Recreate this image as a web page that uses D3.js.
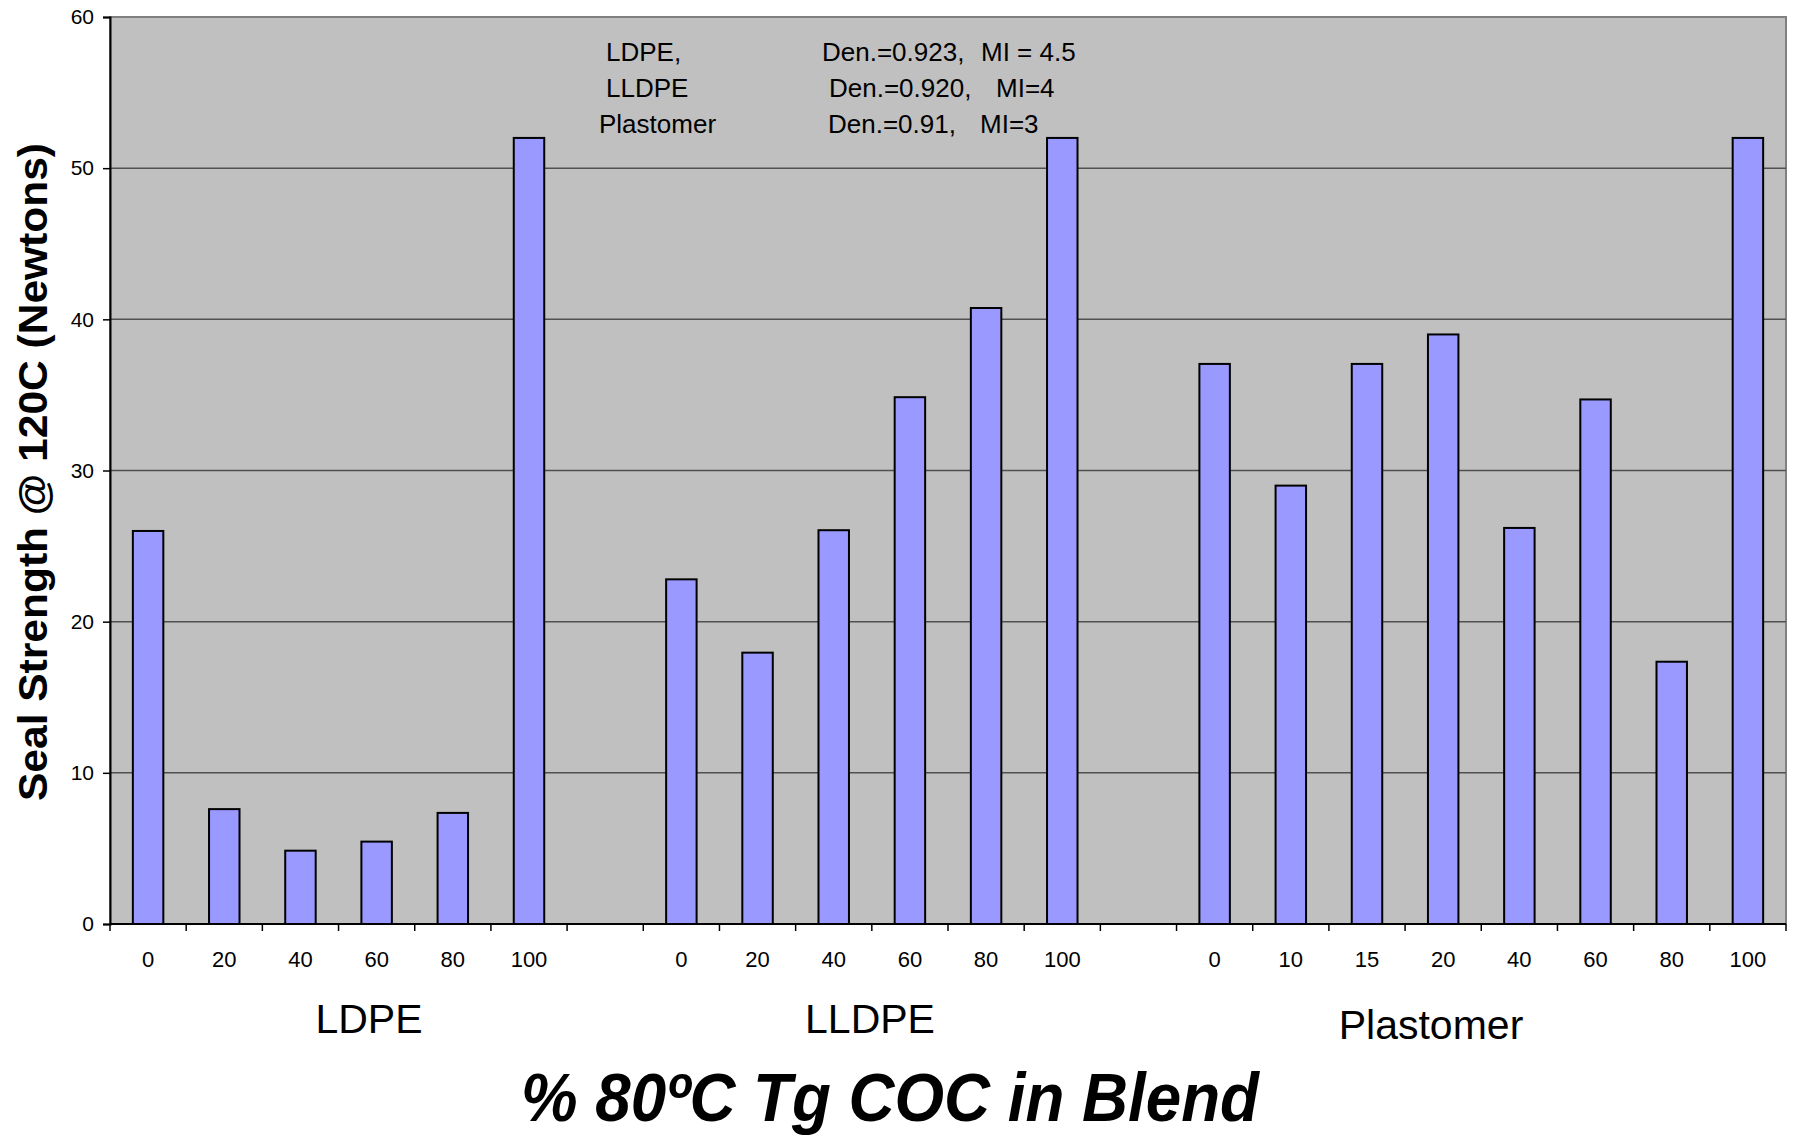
<!DOCTYPE html>
<html>
<head>
<meta charset="utf-8">
<script src="https://cdn.jsdelivr.net/npm/d3@7"></script>
<style>
  body { margin: 0; background: #fff; }
  svg text { font-family: "Liberation Sans", Arial, sans-serif; fill: #000; }
</style>
</head>
<body>
<svg id="chart"></svg>
<script>
// blend groups and % COC in each
const groups = ["LDPE", "LLDPE", "Plastomer"];
const ldpeCoc = ["0", "20", "40", "60", "80", "100"];
const ldpeStrength = [26.0, 7.6, 4.85, 5.45, 7.35, 52.0];
const lldpeCoc = ["0", "20", "40", "60", "80", "100"];
const lldpeStrength = [22.8, 17.95, 26.05, 34.85, 40.75, 52.0];
const plastCoc = ["0", "10", "15", "20", "40", "60", "80", "100"];
const plastStrength = [37.05, 29.0, 37.05, 39.0, 26.2, 34.7, 17.35, 52.0];
const yTicks = [0, 10, 20, 30, 40, 50, 60];

const notes = [
  ["LDPE,", "Den.=0.923,", "MI = 4.5"],
  ["LLDPE", "Den.=0.920,", "MI=4"],
  ["Plastomer", "Den.=0.91,", "MI=3"]
];

const width = 1795, height = 1138;
const margin = {left: 110, right: 9, top: 17, bottom: 214};

// build slots: each group, with an empty slot between groups
let slots = [];
const series = [[ldpeCoc, ldpeStrength], [lldpeCoc, lldpeStrength], [plastCoc, plastStrength]];
series.forEach((s, gi) => {
  s[0].forEach((c, i) => slots.push({key: gi + "-" + i, label: c, value: s[1][i], group: gi}));
  if (gi < series.length - 1) slots.push({key: "gap" + gi, label: "", value: null, group: gi});
});

const svg = d3.select("#chart")
  .attr("width", width)
  .attr("height", height);

const x = d3.scaleBand()
  .domain(slots.map(d => d.key))
  .range([margin.left, width - margin.right])
  .paddingInner(0.6)
  .paddingOuter(0.3);

const y = d3.scaleLinear()
  .domain([0, 60])
  .range([height - margin.bottom, margin.top]);

// plot area
svg.append("rect")
  .attr("x", margin.left)
  .attr("y", margin.top)
  .attr("width", width - margin.right - margin.left)
  .attr("height", y(0) - margin.top)
  .attr("fill", "#c0c0c0")
  .attr("stroke", "#808080")
  .attr("stroke-width", 2);

// gridlines
svg.selectAll(".grid")
  .data(yTicks.filter(t => t > 0 && t < 60))
  .join("line")
  .attr("class", "grid")
  .attr("x1", margin.left)
  .attr("x2", width - margin.right)
  .attr("y1", d => y(d))
  .attr("y2", d => y(d))
  .attr("stroke", "#505050")
  .attr("stroke-width", 1.5);

// bars
svg.selectAll(".bar")
  .data(slots.filter(d => d.value !== null))
  .join("rect")
  .attr("class", "bar")
  .attr("x", d => x(d.key))
  .attr("width", x.bandwidth())
  .attr("y", d => y(d.value))
  .attr("height", d => y(0) - y(d.value))
  .attr("fill", "#9999ff")
  .attr("stroke", "#000")
  .attr("stroke-width", 2);

// y axis
const yAxis = svg.append("g")
  .attr("transform", `translate(${margin.left},0)`)
  .call(d3.axisLeft(y).tickValues(yTicks).tickSize(7).tickPadding(9));
yAxis.select(".domain").attr("stroke", "#000").attr("stroke-width", 2);
yAxis.selectAll(".tick line").attr("stroke", "#000").attr("stroke-width", 1.5);
yAxis.selectAll(".tick text")
  .style("font-family", "'Liberation Sans', Arial, sans-serif")
  .style("font-size", "21px");

// x axis: ticks at slot boundaries
const bounds = d3.range(slots.length + 1).map(i => margin.left + i * (width - margin.right - margin.left) / slots.length);
svg.append("line")
  .attr("x1", margin.left).attr("x2", width - margin.right)
  .attr("y1", y(0)).attr("y2", y(0))
  .attr("stroke", "#000").attr("stroke-width", 2);
svg.selectAll(".xtick")
  .data(bounds)
  .join("line")
  .attr("class", "xtick")
  .attr("x1", d => d).attr("x2", d => d)
  .attr("y1", y(0)).attr("y2", y(0) + 7)
  .attr("stroke", "#000").attr("stroke-width", 1.5);

svg.selectAll(".xlab")
  .data(slots.filter(d => d.label !== ""))
  .join("text")
  .attr("class", "xlab")
  .attr("x", d => x(d.key) + x.bandwidth() / 2)
  .attr("y", y(0) + 43)
  .attr("text-anchor", "middle")
  .style("font-size", "22px")
  .text(d => d.label);

// group labels
const groupPos = [[369, 1033], [870, 1033], [1431, 1039]];
svg.selectAll(".glab")
  .data(groups)
  .join("text")
  .attr("class", "glab")
  .attr("x", (d, i) => groupPos[i][0])
  .attr("y", (d, i) => groupPos[i][1])
  .attr("text-anchor", "middle")
  .style("font-size", "41px")
  .text(d => d);

// annotation
const noteX = [[606, 822, 981], [606, 829, 996], [599, 828, 980]];
const noteY = [61, 97, 133];
notes.forEach((n, i) => {
  n.forEach((t, j) => {
    svg.append("text").attr("x", noteX[i][j]).attr("y", noteY[i])
      .style("font-size", "26px").text(t);
  });
});

// axis titles
svg.append("text")
  .attr("transform", `translate(47,${(143 + 801) / 2}) rotate(-90)`)
  .attr("text-anchor", "middle")
  .attr("textLength", 658)
  .attr("lengthAdjust", "spacingAndGlyphs")
  .style("font-size", "41px")
  .style("font-weight", "bold")
  .text("Seal Strength @ 120C (Newtons)");

svg.append("text")
  .attr("x", 890)
  .attr("y", 1121)
  .attr("text-anchor", "middle")
  .attr("textLength", 738)
  .attr("lengthAdjust", "spacingAndGlyphs")
  .style("font-size", "68px")
  .style("font-weight", "bold")
  .style("font-style", "italic")
  .text("% 80ºC Tg COC in Blend");
</script>
</body>
</html>
